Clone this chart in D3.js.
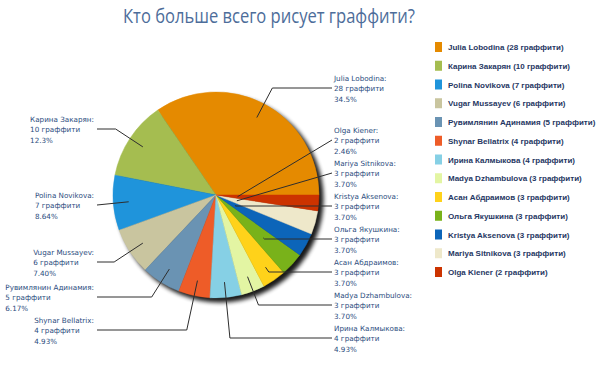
<!DOCTYPE html>
<html>
<head>
<meta charset="utf-8">
<script src="https://cdn.jsdelivr.net/npm/d3@7"></script>
<style>
  html, body { margin: 0; padding: 0; background: #fff; }
  svg { display: block; }
</style>
</head>
<body>
<div id="container"></div>
<script>
const width = 604, height = 377;

// --- Data ---
const names = ["Julia Lobodina", "Карина Закарян", "Polina Novikova", "Vugar Mussayev",
  "Рувимлянин Адинамия", "Shynar Bellatrix", "Ирина Калмыкова", "Madya Dzhambulova",
  "Асан Абдраимов", "Ольга Якушкина", "Kristya Aksenova", "Mariya Sitnikova", "Olga Kiener"];
const counts = [28, 10, 7, 6, 5, 4, 4, 3, 3, 3, 3, 3, 2];
const pctLabels = ["34.5%", "12.3%", "8.64%", "7.40%", "6.17%", "4.93%", "4.93%",
  "3.70%", "3.70%", "3.70%", "3.70%", "3.70%", "2.46%"];
const colors = ["#E58A00", "#A5BD50", "#1F94DB", "#C9C59F", "#6A93B3", "#EE5C28", "#86D0E5",
  "#E3F5A3", "#FFD21A", "#79B21A", "#0C65B9", "#EEE8CA", "#CC3300"];
const unit = "граффити";

// --- Label layout (side, y of connector, anchor radius fraction) ---
const labelSide = ["R", "L", "L", "L", "L", "L", "R", "R", "R", "R", "R", "R", "R"];
const labelY = [88, 129, 205, 262, 297, 330, 338, 305, 272, 239, 206, 173, 140];
const anchorFrac = [0.85, 0.85, 0.85, 0.85, 0.85, 0.85, 0.85, 0.85, 0.85, 0.62, 0.21, 0.21, 0.21];

const cx = 216, cy = 195, R = 103;
const rightX = 332, leftX = 97;
const labelColor = "#2B4C7E";
const labelFont = "'DejaVu Sans', Verdana, sans-serif";

const svg = d3.select("#container").append("svg")
  .attr("width", width).attr("height", height);

const defs = svg.append("defs");
const f = defs.append("filter").attr("id", "shadow")
  .attr("x", "-20%").attr("y", "-20%").attr("width", "140%").attr("height", "140%");
f.append("feGaussianBlur").attr("stdDeviation", 2);

// Title
svg.append("text")
  .attr("x", 269).attr("y", 23)
  .attr("text-anchor", "middle")
  .attr("fill", "#4D6D9A")
  .style("font-family", "'Open Sans', sans-serif")
  .style("font-size", "20px")
  .attr("textLength", 292).attr("lengthAdjust", "spacingAndGlyphs")
  .text("Кто больше всего рисует граффити?");

// Pie
const pie = d3.pie().sort(null).value(d => d)
  .startAngle(Math.PI / 2).endAngle(Math.PI / 2 - 2 * Math.PI);
const arcs = pie(counts);
const arc = d3.arc().innerRadius(0).outerRadius(R);

const g = svg.append("g").attr("transform", `translate(${cx},${cy})`);

// drop shadow
g.append("circle")
  .attr("cx", 4).attr("cy", 4).attr("r", R + 0.5)
  .attr("fill", "#000").attr("opacity", 0.9)
  .attr("filter", "url(#shadow)");

g.selectAll("path.slice").data(arcs).enter().append("path")
  .attr("class", "slice")
  .attr("d", arc)
  .attr("fill", (d, i) => colors[i])
  .attr("stroke", (d, i) => colors[i])
  .attr("stroke-width", 0.5);

// Connectors and labels
arcs.forEach((d, i) => {
  const a = (d.startAngle + d.endAngle) / 2;
  const ux = Math.sin(a), uy = -Math.cos(a);
  const ax = cx + ux * R * anchorFrac[i];
  const ay = cy + uy * R * anchorFrac[i];
  const ly = labelY[i];
  const endX = labelSide[i] === "R" ? rightX : leftX;
  const pts = [[ax, ay]];
  if (Math.abs(uy) > 1e-6 && Math.abs(ly - ay) > 0.5) {
    const t = (ly - ay) / uy;
    const ex = ax + ux * t;
    const ok = t > 0 && (labelSide[i] === "R" ? ex < endX : ex > endX);
    if (ok) pts.push([ex, ly]);
  }
  pts.push([endX, ly]);
  svg.append("path")
    .attr("d", d3.line()(pts))
    .attr("fill", "none")
    .attr("stroke", "#2E2E2E")
    .attr("stroke-width", 1);

  const lines = [names[i] + ":", counts[i] + " " + unit, pctLabels[i]];
  const tg = svg.append("g");
  const texts = lines.map((s, k) => tg.append("text")
    .attr("y", ly + 3 + (k - 1) * 10.5)
    .attr("fill", labelColor)
    .style("font-family", labelFont)
    .style("font-size", "7.2px")
    .text(s));
  let x0;
  if (labelSide[i] === "R") {
    x0 = rightX + 2;
  } else {
    const w = d3.max(texts, t => t.node().getComputedTextLength());
    x0 = leftX - 3 - w;
  }
  texts.forEach(t => t.attr("x", x0));
});

// Legend
const legY0 = 47, legStep = 18.75;
const leg = svg.append("g");
names.forEach((n, i) => {
  const y = legY0 + i * legStep;
  leg.append("rect")
    .attr("x", 435).attr("y", y - 5)
    .attr("width", 7).attr("height", 10)
    .attr("fill", colors[i]);
  leg.append("text")
    .attr("x", 448).attr("y", y + 3)
    .attr("fill", "#1F3763")
    .style("font-family", "'Liberation Sans', Arial, sans-serif")
    .style("font-size", "8px")
    .style("font-weight", "bold")
    .text(`${n} (${counts[i]} ${unit})`);
});
</script>
</body>
</html>
